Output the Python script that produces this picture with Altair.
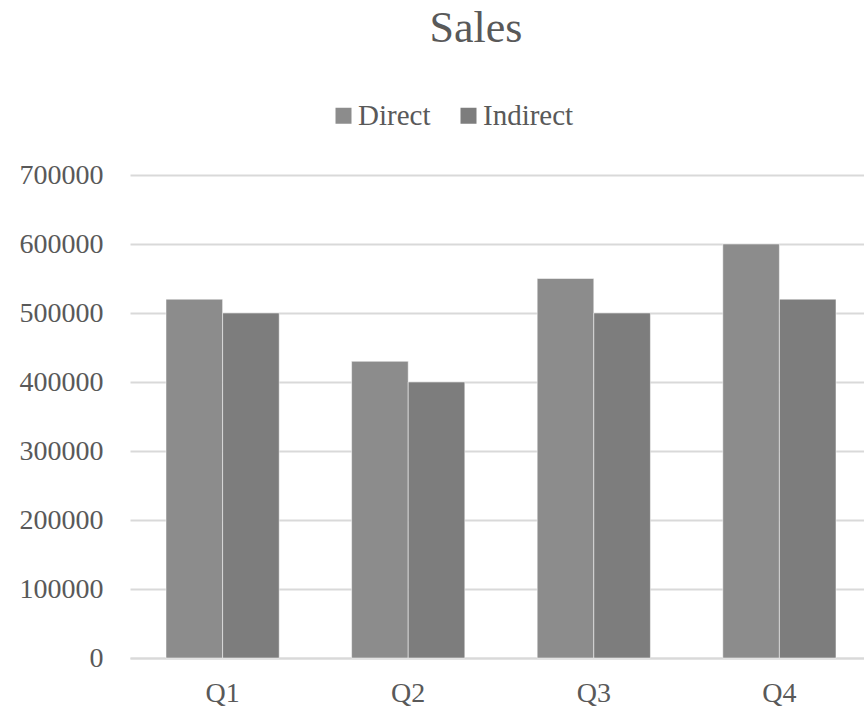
import altair as alt
import pandas as pd

quarters = ["Q1", "Q2", "Q3", "Q4"]
direct = [520000, 430000, 550000, 600000]
indirect = [500000, 400000, 500000, 520000]
series = ["Direct", "Indirect"]

rows = []
for q, d, i in zip(quarters, direct, indirect):
    rows.append({"quarter": q, "series": "Direct", "value": d})
    rows.append({"quarter": q, "series": "Indirect", "value": i})
df = pd.DataFrame(rows)

FONT = "Liberation Serif"
TXT = "#595959"

chart = alt.Chart(df).mark_bar(stroke="white", strokeWidth=0.5).encode(
    x=alt.X("quarter:N", sort=quarters, title=None,
            scale=alt.Scale(paddingInner=0.39, paddingOuter=0.194, range=[0, 742]),
            axis=alt.Axis(labelAngle=0, labelFont=FONT, labelFontSize=28, labelColor=TXT,
                          labelPadding=21, ticks=False, domainColor="#d9d9d9", domainWidth=2)),
    xOffset=alt.XOffset("series:N", sort=series),
    y=alt.Y("value:Q", title=None,
            scale=alt.Scale(domain=[0, 700000]),
            axis=alt.Axis(values=[0, 100000, 200000, 300000, 400000, 500000, 600000, 700000],
                          format="d", labelFont=FONT, labelFontSize=28, labelColor=TXT,
                          labelPadding=27, ticks=False, domain=False,
                          gridColor="#d9d9d9", gridWidth=2)),
    color=alt.Color("series:N", sort=series,
                    scale=alt.Scale(domain=series, range=["#8c8c8c", "#7d7d7d"]),
                    legend=alt.Legend(title=None, orient="none", legendX=199, legendY=-74,
                                      direction="horizontal", symbolType="square",
                                      symbolSize=256, symbolStrokeWidth=0,
                                      labelFont=FONT, labelFontSize=29, labelColor=TXT,
                                      labelOffset=0, columnPadding=23)),
).properties(
    width=734, height=483,
    title=alt.TitleParams("Sales", font=FONT, fontSize=44, fontWeight="normal",
                          color=TXT, anchor="middle", dx=-21, offset=50),
    padding={"left": 130, "top": 175, "right": 0, "bottom": 55},
    autosize=alt.AutoSizeParams(type="none"),
).configure_view(stroke=None)

chart.save("out.html", embed_options={"renderer": "svg", "actions": False})
